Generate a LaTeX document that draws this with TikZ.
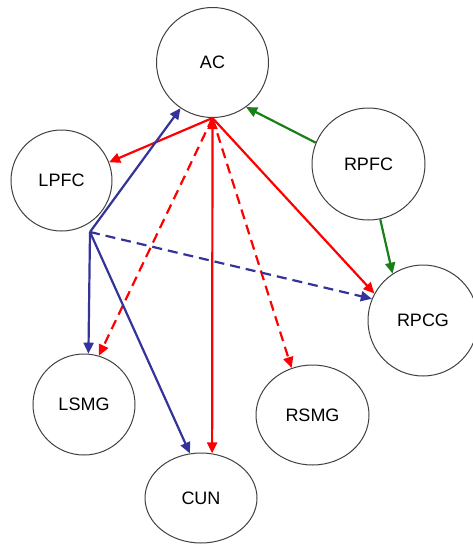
\documentclass[tikz,border=0pt]{standalone}
\usepackage{fontspec}
\setmainfont{Liberation Sans}
\usetikzlibrary{arrows.meta,shapes.geometric}
\definecolor{linkred}{RGB}{255,0,0}
\definecolor{linkblue}{RGB}{51,51,153}
\definecolor{linkgreen}{RGB}{25,128,25}

\begin{document}
\begin{tikzpicture}[
  x=1pt, y=-1pt,
  region/.style={ellipse, draw=black!75, line width=1pt, inner sep=0pt, font=\fontsize{18}{20}\selectfont},
  arr/.style={-{Triangle[length=11pt,width=10pt]}, line width=2.2pt},
  twoarr/.style={{Triangle[length=11pt,width=10pt]}-{Triangle[length=11pt,width=10pt]}, line width=2.2pt},
  dashlink/.style={dash pattern=on 10pt off 6pt},
]
\useasboundingbox (0,0) rectangle (473,544);

\node[region, minimum width=112pt, minimum height=110pt] (ac) at (212.5,62.5) {AC};
\node[region, minimum width=101pt, minimum height=101pt] (lpfc) at (61.5,180.5) {LPFC};
\node[region, minimum width=113pt, minimum height=112pt] (rpfc) at (368.5,164) {RPFC};
\node[region, minimum width=110pt, minimum height=111pt] (rpcg) at (423,320.5) {RPCG};
\node[region, minimum width=102pt, minimum height=101pt] (lsmg) at (84,404.5) {LSMG};
\node[region, minimum width=113pt, minimum height=100pt] (rsmg) at (312.5,415) {RSMG};
\node[region, minimum width=112pt, minimum height=90pt] (cun) at (201,498) {CUN};

\coordinate (hub) at (90,232);

% AC outputs
\draw[arr, linkred] (ac.south) -- (lpfc.21);
\draw[twoarr, linkred] (ac.south) -- (cun.76);
\draw[arr, linkred] (ac.south) -- (rpcg.151);
\draw[arr, linkred, dashlink] (ac.south) -- (lsmg.73);
\draw[arr, linkred, dashlink] (ac.south) -- (rsmg.114);

% LPFC outputs
\draw[arr, linkblue] (hub) -- (ac.235);
\draw[arr, linkblue] (hub) -- (lsmg.85);
\draw[arr, linkblue] (hub) -- (cun.104);
\draw[arr, linkblue, dashlink] (hub) -- (rpcg.157);

% RPFC outputs
\draw[arr, linkgreen] (rpfc.158) -- (ac.307);
\draw[arr, linkgreen] (rpfc.282) -- (rpcg.123);
\end{tikzpicture}
\end{document}
